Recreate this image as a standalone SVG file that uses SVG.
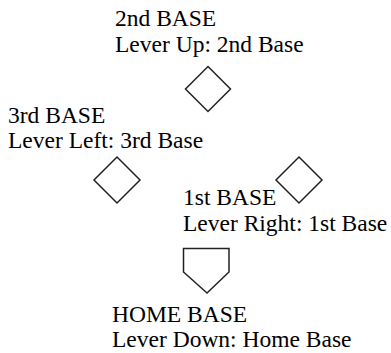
<svg xmlns="http://www.w3.org/2000/svg" width="391" height="353" viewBox="0 0 391 353">
<style>
text{font-family:"Liberation Serif","Times New Roman",serif;font-size:23.5px;fill:#000}
.b{fill:#fff;stroke:#222;stroke-width:1.5}
</style>
<rect width="391" height="353" fill="#fff"/>
<g id="second">
<text x="115" y="26">2nd BASE</text>
<text x="115" y="51.5">Lever Up: 2nd Base</text>
<polygon class="b" points="208,66.5 230.5,89 208,111.5 185.5,89"/>
</g>
<g id="third">
<text x="8" y="122.5">3rd BASE</text>
<text x="8" y="148">Lever Left: 3rd Base</text>
<polygon class="b" points="117,157 140,180 117,203 94,180"/>
</g>
<g id="first">
<polygon class="b" points="299,157 322,180 299,203 276,180"/>
<text x="183" y="205">1st BASE</text>
<text x="183" y="230.5">Lever Right: 1st Base</text>
</g>
<g id="home">
<polygon class="b" points="183.5,248.5 229,248.5 229,272 207,293 183.5,272"/>
<text x="112" y="321.5">HOME BASE</text>
<text x="112" y="347">Lever Down: Home Base</text>
</g>
<g id="connectors"></g>
</svg>
